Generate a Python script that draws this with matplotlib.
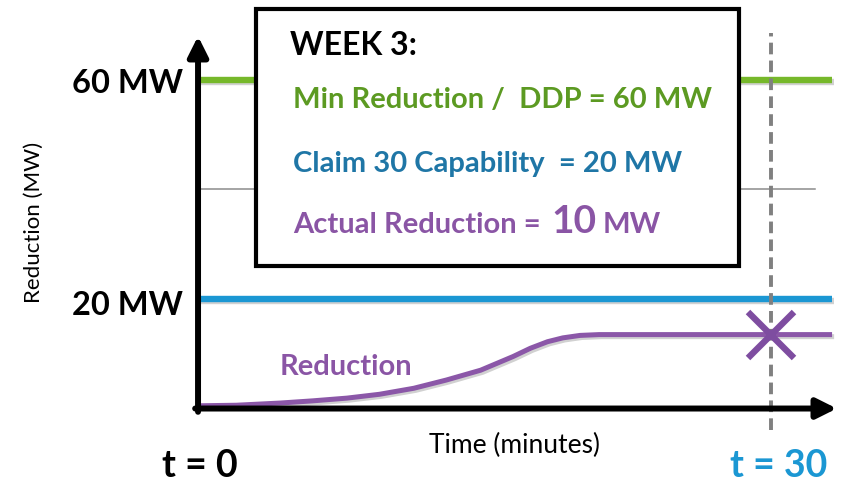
import matplotlib
matplotlib.use("Agg")
import matplotlib.pyplot as plt
import matplotlib.patheffects as pe
from matplotlib.patches import Rectangle

plt.rcParams['font.family'] = ['Lato', 'DejaVu Sans']

# data (minutes / MW)
min_reduction = 60
claim30 = 20
grid_level = 40
t_end = 30
line_end = 33.2
grid_end = 32.3
t_curve = [0, 2, 4.3, 6, 7.8, 9.5, 11.3, 13.0, 14.8, 16.5, 17.4, 18.3, 19.1, 20.0, 21.0, 33.2]
mw_curve = [0.5, 0.6, 1.0, 1.4, 1.9, 2.6, 3.7, 5.2, 7.0, 9.5, 11.0, 12.2, 12.9, 13.35, 13.5, 13.5]
actual = 13.5

W, H = 846, 483
GREEN = '#76b82a'
BLUE = '#1b97d3'
PURPLE = '#8b57a8'

fig = plt.figure(figsize=(W / 100, H / 100), dpi=100)
ax = fig.add_axes([0, 0, 1, 1])
ax.set_xlim(-10.37, 33.93)
ax.set_ylim(-13.6, 74.6)
ax.axis('off')


def P(x, y):
    return (x / W, 1 - y / H)


shadow = [pe.SimpleLineShadow(offset=(1.5, -1.5), alpha=0.18), pe.Normal()]

ax.plot([0, grid_end], [grid_level] * 2, color='#8c8c8c', lw=1.1, zorder=1)
ax.plot([0, line_end], [min_reduction] * 2, color=GREEN, lw=4.6,
        solid_capstyle='butt', zorder=2, path_effects=shadow)
ax.plot([0, line_end], [claim30] * 2, color=BLUE, lw=4.6,
        solid_capstyle='butt', zorder=2, path_effects=shadow)
ax.plot(t_curve, mw_curve, color=PURPLE, lw=3.6, solid_capstyle='butt',
        solid_joinstyle='round', zorder=3, path_effects=shadow)

ax.plot([t_end, t_end], [-4, 68.5], color='#808080', lw=2.8,
        dashes=(3, 1.6), zorder=4)
ax.plot([t_end], [actual], marker='x', ms=33, mew=4.6, color='#7e4da0',
        zorder=5)

# axes arrows
arrow = dict(arrowstyle='-|>,head_length=1.2,head_width=0.6', lw=4.3,
             color='k', shrinkA=0, shrinkB=0)
ax.annotate('', xy=(0, 68.0), xytext=(0, -0.6), arrowprops=arrow,
            zorder=6)
ax.annotate('', xy=(33.45, 0), xytext=(-0.15, 0), arrowprops=arrow,
            zorder=6)

# info box
ax.add_patch(Rectangle(P(256, 266), (739 - 256) / W, (266 - 9) / H,
                       transform=ax.transAxes, facecolor='white',
                       edgecolor='black', lw=3, zorder=7))

bold = dict(fontweight='bold', transform=ax.transAxes, va='baseline',
            zorder=8)
ax.text(*P(290, 55), 'WEEK 3:', fontsize=23, color='black', **bold)
ax.text(*P(293, 108), 'Min Reduction /  DDP = 60 MW', fontsize=21,
        color='#5c9a22', **bold)
ax.text(*P(293, 172), 'Claim 30 Capability  = 20 MW', fontsize=21,
        color='#1f76a6', **bold)
ax.text(*P(293, 233), 'Actual Reduction = ', fontsize=21,
        color='#8a55a5', **bold)
ax.text(*P(551, 233), '10', fontsize=28, color='#8a55a5', **bold)
ax.text(*P(603, 233), 'MW', fontsize=21, color='#8a55a5', **bold)

ax.text(*P(183, 93), '60 MW', fontsize=23.5, color='black', ha='right', **bold)
ax.text(*P(183, 315), '20 MW', fontsize=23.5, color='black', ha='right', **bold)
ax.text(*P(346, 375), 'Reduction', fontsize=21, color='#8a55a5',
        ha='center', **bold)
ax.text(*P(200, 477), 't = 0', fontsize=27, color='black', ha='center', **bold)
ax.text(*P(779, 477), 't = 30', fontsize=27, color=BLUE, ha='center', **bold)

ax.text(*P(514, 453), 'Time (minutes)', fontsize=19, color='black',
        ha='center', va='baseline', transform=ax.transAxes)
ax.text(*P(34, 222), 'Reduction (MW)', fontsize=16, color='black',
        ha='center', va='center', rotation=90, transform=ax.transAxes)

fig.savefig('out.png', dpi=100)
